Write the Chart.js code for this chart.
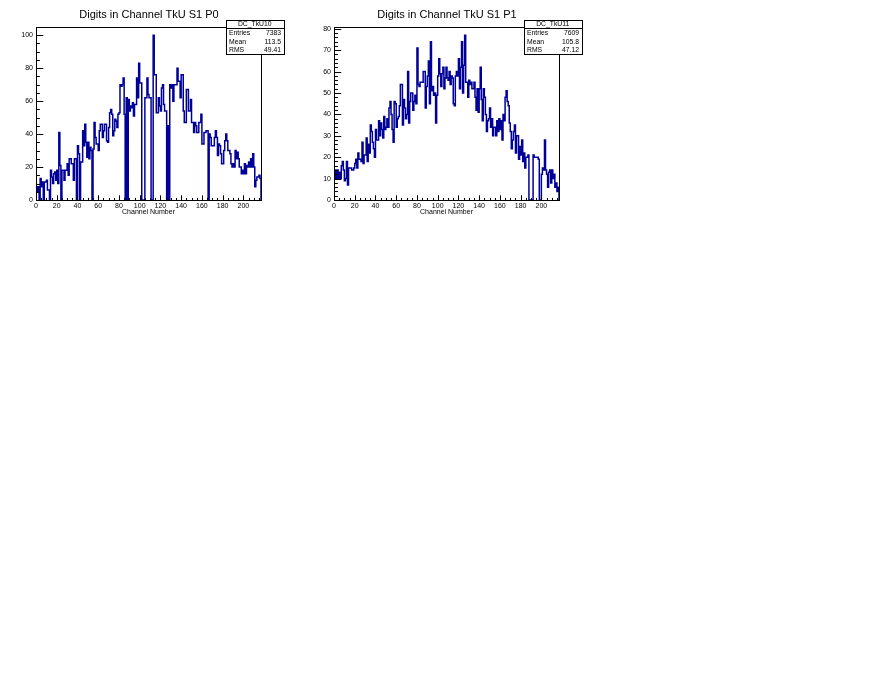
<!DOCTYPE html>
<html><head><meta charset="utf-8">
<script src="https://cdn.jsdelivr.net/npm/chart.js@4.4.1/dist/chart.umd.min.js"></script>
<style>
html,body{margin:0;padding:0;background:#fff;}
body{width:896px;height:690px;position:relative;overflow:hidden;}
canvas{position:absolute;top:0;}
</style></head><body>
<canvas id="c0" width="298" height="230" style="left:0px"></canvas>
<canvas id="c1" width="298" height="230" style="left:298px"></canvas>
<script>
// ---- data ----
const NBINS = 217;
const digitsP0 = [
 8,5,8,0,13,8,11,0,11,11,
 12,6,6,0,18,14,10,16,17,12,
 18,10,41,21,0,18,18,12,18,18,
 22,15,25,25,22,22,12,25,25,0,
 33,28,0,23,23,42,33,46,35,26,
 35,25,32,30,0,31,47,38,34,34,
 30,42,46,46,38,42,46,46,36,35,
 44,53,55,52,39,42,49,48,44,52,
 53,70,69,70,74,52,0,62,0,61,
 54,57,56,59,51,58,58,74,62,83,
 71,71,0,0,0,62,62,74,64,62,
 62,0,0,100,76,76,53,53,62,57,
 54,68,70,58,54,54,0,45,0,70,
 68,70,60,70,70,70,80,72,72,62,
 76,76,54,47,47,67,67,54,54,61,
 47,47,41,47,45,41,41,47,47,52,
 34,34,41,41,42,42,0,40,38,33,
 33,33,38,42,38,27,34,33,28,22,
 22,30,36,40,36,30,30,28,22,20,
 22,20,30,25,29,25,20,20,16,18,
 16,22,16,21,20,23,20,25,20,28,
 20,8,12,14,14,15,13
];
const digitsP1 = [
 10,14,10,14,10,13,10,16,18,14,
 9,10,18,7,15,15,15,14,14,15,
 17,19,15,22,19,19,18,27,17,21,
 21,29,18,26,22,35,32,27,24,20,
 33,28,28,37,30,36,33,29,39,33,
 34,38,34,43,46,40,33,27,46,45,
 34,38,39,44,54,54,35,47,43,38,
 40,60,36,46,50,50,42,46,49,45,
 71,54,53,55,55,55,60,60,43,53,
 58,65,45,74,51,53,49,50,36,49,
 58,66,59,53,59,62,52,57,62,57,
 56,60,54,58,57,45,44,58,60,58,
 66,52,62,74,50,63,77,55,55,48,
 56,54,55,52,52,55,48,42,52,41,
 52,62,47,37,52,48,40,32,37,38,
 43,34,38,30,34,34,30,37,32,38,
 33,37,28,40,37,48,51,46,44,36,
 32,24,28,32,35,22,30,30,19,25,
 21,28,18,22,15,20,20,21,0,0,
 0,0,21,20,20,20,20,19,0,0,
 12,15,14,28,14,12,6,13,14,8,
 14,10,12,6,8,4,6
];
const xTicks = [0,20,40,60,80,100,120,140,160,180,200];
const yTicksP0 = [0,20,40,60,80,100];
const yTicksP1 = [0,10,20,30,40,50,60,70,80];
const titles = ['Digits in Channel TkU S1 P0','Digits in Channel TkU S1 P1'];
const histNames = ['DC_TkU10','DC_TkU11'];
const statLabels = ['Entries','Mean','RMS'];
const statsP0 = ['7383','113.5','49.41'];
const statsP1 = ['7609','105.8','47.12'];
const xTitle = 'Channel Number';

const FONT = 'Liberation Sans, Arial, Helvetica, sans-serif';
const LINE = '#000099';

const rootPlugin = {
  id: 'rootDecor',
  afterDraw(chart, args, o) {
    const ctx = chart.ctx, a = chart.chartArea;
    const xs = chart.scales.x, ys = chart.scales.y;
    ctx.save();
    ctx.strokeStyle = '#000'; ctx.lineWidth = 1;
    const L = Math.round(a.left) + 0.5, T = Math.round(a.top) + 0.5;
    const R = Math.round(a.right) + 0.5, B = Math.round(a.bottom) + 0.5;
    ctx.strokeRect(L, T, R - L, B - T);
    const H = a.bottom - a.top, W = a.right - a.left;
    const xMaj = 0.03 * H, yMaj = 0.03 * W;
    ctx.beginPath();
    for (let v = 0; v <= xs.max; v += o.xMinor) {
      const px = Math.round(xs.getPixelForValue(v)) + 0.5;
      const len = (v % o.xMajor === 0) ? xMaj : xMaj / 2;
      ctx.moveTo(px, B); ctx.lineTo(px, B - len);
    }
    for (let v = 0; v <= ys.max; v += o.yMinor) {
      const py = Math.round(ys.getPixelForValue(v)) + 0.5;
      const len = (v % o.yMajor === 0) ? yMaj : yMaj / 2;
      ctx.moveTo(L, py); ctx.lineTo(L + len, py);
    }
    ctx.stroke();
    // title
    ctx.fillStyle = '#000';
    ctx.font = '11px ' + FONT;
    ctx.textAlign = 'center'; ctx.textBaseline = 'middle';
    ctx.fillText(o.title, chart.width / 2, 15);
    // stats box
    const bx0 = a.right - 35, bx1 = a.right + 22.5, by0 = 20, by1 = 54.3;
    ctx.fillStyle = '#fff';
    ctx.fillRect(bx0, by0, bx1 - bx0, by1 - by0);
    ctx.strokeStyle = '#000';
    ctx.strokeRect(Math.round(bx0) + 0.5, by0 + 0.5, Math.round(bx1 - bx0), Math.round(by1 - by0));
    ctx.beginPath();
    ctx.moveTo(Math.round(bx0), 28.5); ctx.lineTo(Math.round(bx1) + 1, 28.5);
    ctx.stroke();
    ctx.fillStyle = '#000';
    ctx.font = '6.8px ' + FONT;
    ctx.textAlign = 'center';
    ctx.fillText(o.name, (bx0 + bx1) / 2, 24.3);
    const rows = [33.5, 42, 50.5];
    o.labels.forEach((lab, i) => {
      ctx.textAlign = 'left'; ctx.fillText(lab, bx0 + 3, rows[i]);
      ctx.textAlign = 'right'; ctx.fillText(o.values[i], bx1 - 2.5, rows[i]);
    });
    ctx.restore();
  }
};

function makeChart(id, values, yTicks, yMajor, yMinor, title, name, vals) {
  const pts = [{x: 0, y: 0}];
  values.forEach((v, i) => pts.push({x: i, y: v}));
  pts.push({x: NBINS, y: values[values.length - 1]});
  pts.push({x: NBINS, y: 0});
  const ymax = 1.05 * Math.max(...values);
  const tickFont = {family: FONT, size: 7};
  new Chart(document.getElementById(id), {
    type: 'line',
    data: {datasets: [{data: pts, stepped: true, borderColor: LINE, borderWidth: 1.5,
      borderJoinStyle: 'miter', borderCapStyle: 'butt', pointRadius: 0, fill: false}]},
    options: {
      responsive: false, animation: false, events: [],
      layout: {padding: {top: 27, right: 37, left: 0, bottom: 0}},
      plugins: {
        legend: {display: false}, tooltip: {enabled: false},
        rootDecor: {title, name, labels: statLabels, values: vals,
          xMajor: 20, xMinor: 5, yMajor, yMinor}
      },
      scales: {
        x: {type: 'linear', min: 0, max: NBINS,
          grid: {display: false, drawTicks: false}, border: {display: false},
          afterBuildTicks: s => { s.ticks = xTicks.map(v => ({value: v})); },
          afterFit: s => { s.height = 30; },
          ticks: {font: tickFont, color: '#000', padding: 2, maxRotation: 0, autoSkip: false},
          title: {display: true, text: xTitle, font: tickFont, color: '#000', padding: {top: 0, bottom: 14}}
        },
        y: {type: 'linear', min: 0, max: ymax,
          grid: {display: false, drawTicks: false}, border: {display: false},
          afterBuildTicks: s => { s.ticks = yTicks.map(v => ({value: v})); },
          afterFit: s => { s.width = 36; },
          ticks: {font: tickFont, color: '#000', padding: 3, autoSkip: false}
        }
      }
    },
    plugins: [rootPlugin]
  });
}

makeChart('c0', digitsP0, yTicksP0, 20, 5, titles[0], histNames[0], statsP0);
makeChart('c1', digitsP1, yTicksP1, 10, 2, titles[1], histNames[1], statsP1);
</script>
</body></html>
